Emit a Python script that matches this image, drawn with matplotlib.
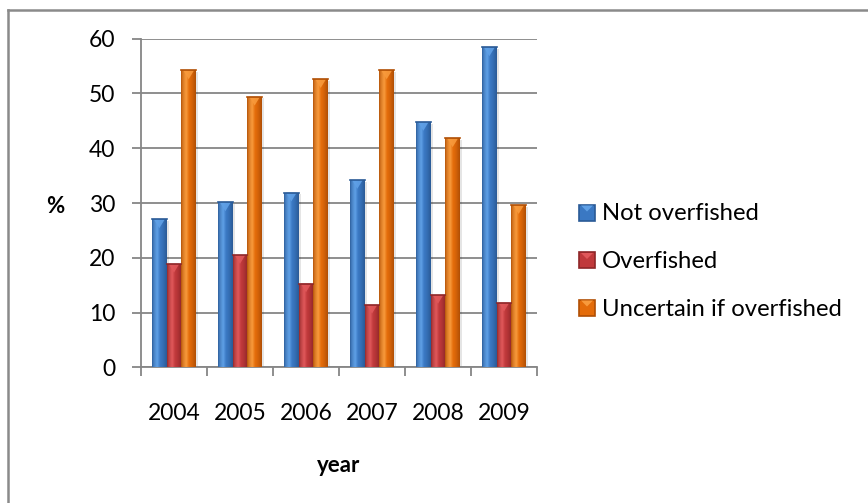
import numpy as np
import matplotlib.pyplot as plt
from matplotlib.colors import to_rgb
from matplotlib.patches import Rectangle, Polygon
from matplotlib.lines import Line2D

plt.rcParams['font.family'] = ['Lato', 'DejaVu Sans']

# survey results per year (%)
years = ['2004', '2005', '2006', '2007', '2008', '2009']
not_overfished = [27.0, 30.1, 31.9, 34.2, 44.8, 58.4]
overfished = [18.9, 20.5, 15.3, 11.4, 13.2, 11.8]
uncertain = [54.2, 49.4, 52.6, 54.2, 41.8, 29.6]

series = [
    ('Not overfished', not_overfished, '#3a78c3', '#2a5a96', '#5fa0e6'),
    ('Overfished', overfished, '#c0393b', '#8e2628', '#e0585a'),
    ('Uncertain if overfished', uncertain, '#e46c0a', '#b04f05', '#f89a3c'),
]

W, H = 868, 503
fig = plt.figure(figsize=(W / 100, H / 100), dpi=100)
ax = fig.add_axes([141 / W, 1 - 367.3 / H, 396 / W, 328.6 / H])

x = np.arange(len(years))
w = 0.222
ramp = np.linspace(0, 1, 64)


def shade(base, dark, light):
    # cylinder-like horizontal ramp: dark edges, lighter left-of-centre
    b, d, l = np.array(to_rgb(base)), np.array(to_rgb(dark)), np.array(to_rgb(light))
    rows = []
    for t in ramp:
        if t < 0.35:
            c = d + (l - d) * (t / 0.35) ** 0.6
        elif t < 0.55:
            c = l + (b - l) * (t - 0.35) / 0.2
        else:
            c = b + (d - b) * ((t - 0.55) / 0.45) ** 1.3
        rows.append(c)
    return np.array(rows)[None, :, :]


for i, (name, vals, base, dark, light) in enumerate(series):
    xs = x - w + i * w
    img = shade(base, dark, light)
    for xc, v in zip(xs, vals):
        # soft shadow to the right
        ax.add_patch(Rectangle((xc - w / 2 + 0.03, 0), w, v - 0.3,
                               facecolor='#000000', alpha=0.10, lw=0, zorder=2))
        bar = ax.bar(xc, v, width=w, color=base, lw=0, zorder=3)[0]
        im = ax.imshow(img, extent=(xc - w / 2, xc + w / 2, 0, v),
                       aspect='auto', zorder=4)
        im.set_clip_path(bar)
        # bevel highlight at the top of the bar
        ax.add_patch(Polygon([(xc - w / 2 + 0.03, v), (xc + w / 2 - 0.03, v),
                              (xc, v - 1.6)], closed=True,
                             facecolor=light, edgecolor='none', alpha=0.9, zorder=5))
        ax.plot([xc - w / 2, xc + w / 2], [v, v], color=dark, lw=1.2, zorder=5)

ax.set_xlim(-0.5, len(years) - 0.5)
ax.set_ylim(0, 60)
ax.set_yticks(range(0, 61, 10))
ax.set_xticks(np.arange(-0.5, len(years), 1.0))
ax.set_xticklabels([])
ax.tick_params(axis='x', length=6.5, color='#868686', width=1.3, direction='out')
ax.tick_params(axis='y', length=6.5, color='#868686', width=1.3, direction='out',
               labelsize=16.5, pad=12)
for lbl_x, yr in zip(x, years):
    ax.text(lbl_x, -9.6, yr, ha='center', va='baseline', fontsize=16.5)

ax.grid(axis='y', color='#868686', lw=1.3, zorder=0)
ax.set_axisbelow(True)
for s in ['top', 'right']:
    ax.spines[s].set_visible(False)
for s in ['left', 'bottom']:
    ax.spines[s].set_color('#868686')
    ax.spines[s].set_linewidth(1.3)

fig.text(55 / W, 1 - 213 / H, '%', ha='center', va='baseline',
         fontsize=16, fontweight='bold')
fig.text(339 / W, 1 - 472 / H, 'year', ha='center', va='baseline',
         fontsize=16, fontweight='bold')

# legend: bevelled square swatch plus label per series
for k, (name, _, base, dark, light) in enumerate(series):
    base_y = 220.5 + 47.5 * k
    fig.add_artist(Rectangle((579 / W, 1 - base_y / H), 16 / W, 16 / H,
                             facecolor=base, edgecolor=dark, lw=1.2,
                             transform=fig.transFigure))
    fig.add_artist(Polygon([(581 / W, 1 - (base_y - 15) / H),
                            (593 / W, 1 - (base_y - 15) / H),
                            (587 / W, 1 - (base_y - 9) / H)], closed=True,
                           facecolor=light, edgecolor='none',
                           transform=fig.transFigure))
    fig.text(602 / W, 1 - base_y / H, name, ha='left', va='baseline',
             fontsize=17.2)

# frame lines along the top and left edge
fig.add_artist(Line2D([7.5 / W, 1], [1 - 9.5 / H, 1 - 9.5 / H],
                      color='#8a8a8a', lw=1.8, transform=fig.transFigure))
fig.add_artist(Line2D([7.5 / W, 7.5 / W], [0, 1 - 9.5 / H],
                      color='#8a8a8a', lw=1.8, transform=fig.transFigure))

fig.savefig('out.png', dpi=100)
